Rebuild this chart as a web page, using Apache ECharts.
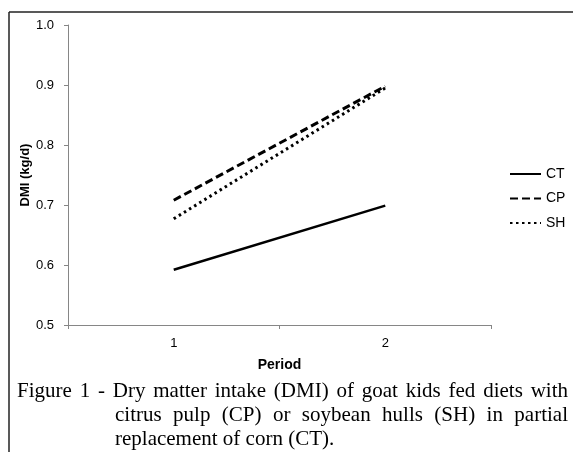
<!DOCTYPE html>
<html>
<head>
<meta charset="utf-8">
<script src="https://cdn.jsdelivr.net/npm/echarts@6/dist/echarts.min.js"></script>
<style>
  html, body { margin: 0; padding: 0; background: #fff; }
  #chart { width: 573px; height: 452px; }
</style>
</head>
<body>
<div id="chart"></div>
<script>
const periods = ['1', '2']
const ctValues = [0.592, 0.699]
const cpValues = [0.708, 0.898]
const shValues = [0.677, 0.895]
const captionLines = [
  'Figure 1 - Dry matter intake (DMI) of goat kids fed diets with',
  'citrus pulp (CP) or soybean hulls (SH) in partial',
  'replacement of corn (CT).'
]

const chart = echarts.init(document.getElementById('chart'))

// caption is justified like the paper, so lay out words by hand
const captionFont = '21px "Liberation Serif", "Times New Roman", serif'
const ctx = document.createElement('canvas').getContext('2d')
ctx.font = captionFont
const captionSpecs = [
  { x0: 17, x1: 568, y: 391, justify: true },
  { x0: 115, x1: 568, y: 415, justify: true },
  { x0: 115, x1: 568, y: 439, justify: false }
]
const captionGraphics = []
captionLines.forEach((line, i) => {
  const spec = captionSpecs[i]
  const words = line.split(' ')
  const widths = words.map(w => ctx.measureText(w).width)
  const total = widths.reduce((a, b) => a + b, 0)
  const space = spec.justify
    ? (spec.x1 - spec.x0 - total) / (words.length - 1)
    : ctx.measureText(' ').width
  let x = spec.x0
  words.forEach((w, j) => {
    captionGraphics.push({
      type: 'text',
      x: x,
      y: spec.y,
      style: { text: w, font: captionFont, fill: '#000', verticalAlign: 'middle' }
    })
    x += widths[j] + space
  })
})

const axisGray = '#868686'
const sans = 'Liberation Sans, Arial, sans-serif'

const option = {
  animation: false,
  grid: { left: 68, right: 82, top: 25, bottom: 127 },
  legend: {
    orient: 'vertical',
    left: 509,
    top: 167,
    padding: 0,
    itemWidth: 31,
    itemHeight: 14,
    itemGap: 10.5,
    data: ['CT', 'CP', 'SH'],
    itemStyle: { opacity: 0, borderWidth: 0 },
    textStyle: { fontFamily: sans, fontSize: 14, color: '#000' }
  },
  xAxis: {
    type: 'category',
    data: periods,
    boundaryGap: true,
    name: 'Period',
    nameLocation: 'middle',
    nameGap: 33,
    nameMoveOverlap: false,
    nameTextStyle: { fontFamily: sans, fontSize: 14, fontWeight: 'bold', color: '#000' },
    axisLine: { lineStyle: { color: axisGray, width: 1 } },
    axisTick: { show: true, length: 4, lineStyle: { color: axisGray } },
    axisLabel: { margin: 12, fontFamily: sans, fontSize: 13, color: '#000' }
  },
  yAxis: {
    type: 'value',
    min: 0.5,
    max: 1.0,
    interval: 0.1,
    name: 'DMI (kg/d)',
    nameLocation: 'middle',
    nameGap: 36,
    nameMoveOverlap: false,
    nameTextStyle: { fontFamily: sans, fontSize: 13, fontWeight: 'bold', color: '#000' },
    axisLine: { show: true, lineStyle: { color: axisGray, width: 1 } },
    axisTick: { show: true, length: 4, lineStyle: { color: axisGray } },
    splitLine: { show: false },
    axisLabel: {
      margin: 14,
      fontFamily: sans,
      fontSize: 13,
      color: '#000',
      formatter: v => v.toFixed(1)
    }
  },
  series: [
    {
      name: 'CT',
      type: 'line',
      data: ctValues,
      symbol: 'none',
      itemStyle: { color: '#000' },
      lineStyle: { color: '#000', width: 2.5, type: 'solid' }
    },
    {
      name: 'CP',
      type: 'line',
      data: cpValues,
      symbol: 'none',
      itemStyle: { color: '#000' },
      lineStyle: { color: '#000', width: 3, type: [8, 4] }
    },
    {
      name: 'SH',
      type: 'line',
      data: shValues,
      symbol: 'none',
      itemStyle: { color: '#000' },
      lineStyle: { color: '#000', width: 3, type: [2.5, 3.5] }
    }
  ],
  graphic: [
    { type: 'line', shape: { x1: 9, y1: 12, x2: 573, y2: 12 }, style: { stroke: '#222', lineWidth: 1.5 } },
    { type: 'line', shape: { x1: 9, y1: 12, x2: 9, y2: 452 }, style: { stroke: '#222', lineWidth: 1.5 } }
  ].concat(captionGraphics)
}

chart.setOption(option)
</script>
</body>
</html>
